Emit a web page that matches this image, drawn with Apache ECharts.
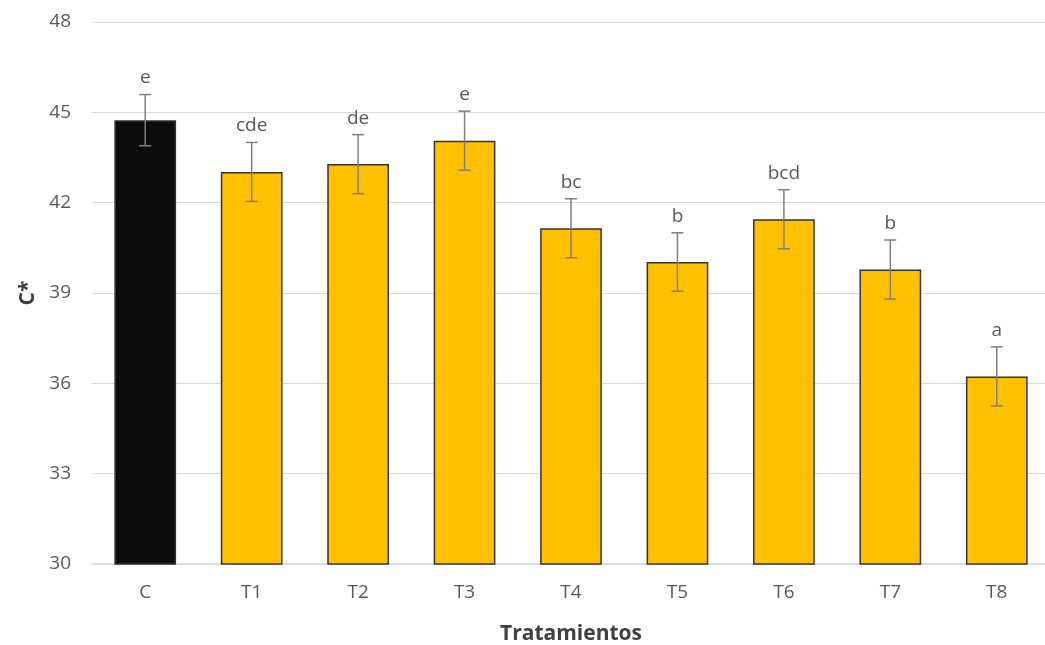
<!DOCTYPE html>
<html>
<head>
<meta charset="utf-8">
<script src="https://cdn.jsdelivr.net/npm/echarts@6/dist/echarts.min.js"></script>
<style>html,body{margin:0;padding:0;background:#fff;}#chart{width:1045px;height:645px;}</style>
</head>
<body>
<div id="chart"></div>
<script>
var categories = ['C','T1','T2','T3','T4','T5','T6','T7','T8'];
var values = [44.74, 43.02, 43.28, 44.06, 41.15, 40.03, 41.45, 39.78, 36.23];
var errors = [0.85, 0.98, 0.98, 0.98, 0.98, 0.97, 0.98, 0.98, 0.98];
var letters = ['e','cde','de','e','bc','b','bcd','b','a'];
var yTicks = [30, 33, 36, 39, 42, 45, 48];

var FONT = '"Open Sans", sans-serif';
var chart = echarts.init(document.getElementById('chart'));
chart.setOption({
  animation: false,
  backgroundColor: '#ffffff',
  grid: { left: 92, width: 958, top: 22, bottom: 81, containLabel: false, outerBoundsMode: 'none' },
  xAxis: {
    type: 'category',
    data: categories,
    name: 'Tratamientos',
    nameLocation: 'middle',
    nameGap: 60,
    nameTextStyle: { fontFamily: FONT, fontSize: 21, fontWeight: 'bold', color: '#404040' },
    axisLine: { lineStyle: { color: '#d9d9d9', width: 1.5 } },
    axisTick: { show: false },
    axisLabel: { fontFamily: FONT, fontSize: 19, color: '#595959', margin: 19 }
  },
  yAxis: {
    type: 'value',
    min: yTicks[0],
    max: yTicks[yTicks.length - 1],
    interval: 3,
    name: 'C*',
    nameLocation: 'middle',
    nameGap: 50,
    nameRotate: 90,
    nameTextStyle: { fontFamily: FONT, fontSize: 21, fontWeight: 'bold', color: '#404040' },
    axisLine: { show: false },
    axisTick: { show: false },
    splitLine: { lineStyle: { color: '#d9d9d9', width: 1 } },
    axisLabel: { fontFamily: FONT, fontSize: 19, color: '#595959', margin: 21 }
  },
  series: [
    {
      type: 'bar',
      data: values.map(function (v, i) {
        return { value: v, itemStyle: { color: i === 0 ? '#0d0d0d' : '#ffc000' } };
      }),
      barWidth: '58%',
      itemStyle: { borderColor: '#333333', borderWidth: 1.5 }
    },
    {
      type: 'custom',
      data: values.map(function (v, i) { return [i, v - errors[i], v + errors[i]]; }),
      encode: { x: 0, y: [1, 2] },
      z: 10,
      renderItem: function (params, api) {
        var i = api.value(0);
        var lo = api.coord([i, api.value(1)]);
        var hi = api.coord([i, api.value(2)]);
        var x = lo[0];
        var cap = 6;
        var st = { stroke: '#7f7f7f', lineWidth: 1.5 };
        return {
          type: 'group',
          children: [
            { type: 'line', shape: { x1: x, y1: lo[1], x2: x, y2: hi[1] }, style: st },
            { type: 'line', shape: { x1: x - cap, y1: lo[1], x2: x + cap, y2: lo[1] }, style: st },
            { type: 'line', shape: { x1: x - cap, y1: hi[1], x2: x + cap, y2: hi[1] }, style: st },
            { type: 'text', style: { text: letters[i], x: x, y: hi[1] - 7, textAlign: 'center', textVerticalAlign: 'bottom', fill: '#595959', font: '19px "Open Sans", sans-serif' } }
          ]
        };
      }
    }
  ]
});
</script>
</body>
</html>
